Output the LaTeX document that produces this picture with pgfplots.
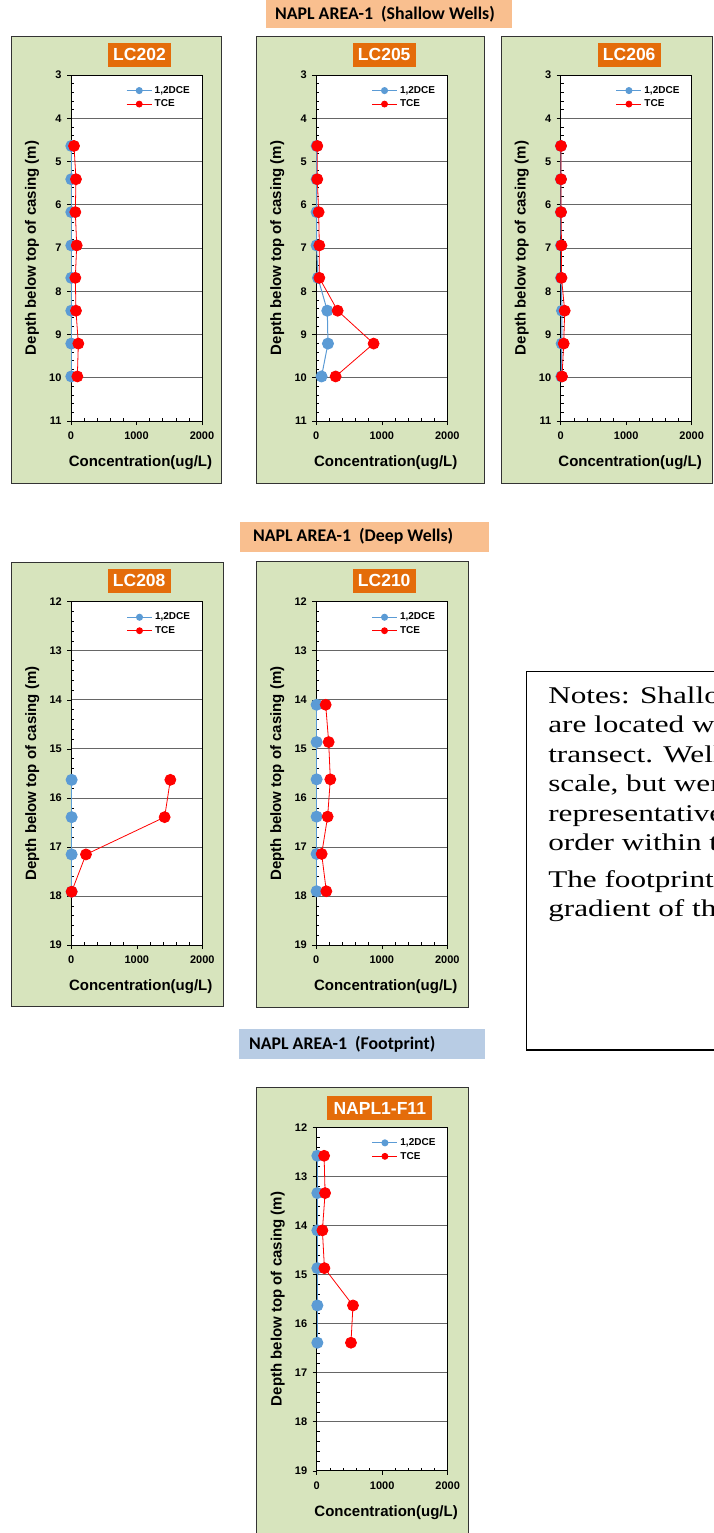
\documentclass[border=0pt]{standalone}
\usepackage{fontspec}
\setmainfont{Liberation Sans}
\newfontfamily\hdrfont{Carlito}
\newfontfamily\notefont{Liberation Serif}
\usepackage{pgfplots}
\pgfplotsset{compat=1.18}

\definecolor{pgreen}{RGB}{215,228,189}
\definecolor{tor}{RGB}{228,108,10}
\definecolor{peach}{RGB}{249,191,143}
\definecolor{hblue}{RGB}{184,204,228}
\definecolor{dceblue}{RGB}{91,155,213}

\pgfplotsset{
  panel/.style={
    scale only axis, width=131pt,
    xmin=0, xmax=2000, xtick={0,1000,2000}, minor x tick num=4,
    y dir=reverse, minor y tick num=4,
    tick pos=left,
    tick align=outside, major tick length=4pt, minor tick length=3pt,
    minor x tick style={yshift=3pt}, minor y tick style={xshift=3pt},
    tick style={black, line width=0.6pt},
    ymajorgrids, major grid style={black!60, line width=0.9pt},
    axis line style={black, line width=0.9pt},
    axis background/.style={fill=white},
    /pgf/number format/assume math mode=true,
    /pgf/number format/1000 sep={},
    ticklabel style={font=\bfseries\fontsize{11}{13}\selectfont},
    xticklabel style={yshift=-3pt},
    yticklabel style={xshift=-2pt},
    xlabel={Concentration(ug/L)},
    ylabel={Depth below top of casing (m)},
    label style={font=\bfseries\fontsize{15}{17}\selectfont},
    xlabel style={at={(axis description cs:0.53,-0.121)}, anchor=center},
    ylabel style={at={(axis description cs:-0.298,0.5)}, anchor=center},
    legend style={draw=none, fill=none, at={(0.42,0.975)}, anchor=north west,
      font=\bfseries\fontsize{10}{12}\selectfont, inner sep=0pt, row sep=0pt,
      nodes={inner sep=2.5pt}},
    legend cell align=left,
    legend image code/.code={\draw[mark repeat=2,mark phase=2,#1] plot coordinates {(0pt,0pt) (12.5pt,0pt) (25pt,0pt)};},
    legend image post style={mark size=3pt},
    clip=false,
  },
  top/.style={panel, height=346pt, ymin=3, ymax=11, ytick={3,4,5,6,7,8,9,10,11}},
  deep/.style={panel, height=343.5pt, ymin=12, ymax=19, ytick={12,13,14,15,16,17,18,19}},
  dce/.style={color=dceblue, line width=1pt, mark=*, mark size=5.5pt, mark options={solid}},
  tce/.style={color=red, line width=0.8pt, mark=*, mark size=5.5pt, mark options={solid}},
}

\begin{document}
\begin{tikzpicture}
\useasboundingbox (0pt,0pt) rectangle (714pt,-1533pt);
\clip (0pt,0pt) rectangle (714pt,-1533pt);

% headers
\fill[peach] (266pt,0pt) rectangle (512pt,-28pt);
\node[anchor=west, font=\hdrfont\bfseries\fontsize{17.8}{20}\selectfont, inner sep=0pt] at (275pt,-14pt) {NAPL AREA-1\ \ (Shallow Wells)};
\fill[peach] (240pt,-521.7pt) rectangle (489pt,-551.7pt);
\node[anchor=west, font=\hdrfont\bfseries\fontsize{17.8}{20}\selectfont, inner sep=0pt] at (253pt,-536.7pt) {NAPL AREA-1\ \ (Deep Wells)};
\fill[hblue] (239pt,-1029pt) rectangle (485pt,-1059pt);
\node[anchor=west, font=\hdrfont\bfseries\fontsize{17.8}{20}\selectfont, inner sep=0pt] at (249pt,-1044pt) {NAPL AREA-1\ \ (Footprint)};

% panel backgrounds
\filldraw[fill=pgreen, draw=black!80, line width=0.8pt] (11.7pt,-36pt) rectangle (221.7pt,-483.5pt);
\filldraw[fill=pgreen, draw=black!80, line width=0.8pt] (256.7pt,-36pt) rectangle (484pt,-483.5pt);
\filldraw[fill=pgreen, draw=black!80, line width=0.8pt] (501pt,-36pt) rectangle (712.5pt,-483.5pt);
\filldraw[fill=pgreen, draw=black!80, line width=0.8pt] (11.7pt,-562.7pt) rectangle (223.3pt,-1006.7pt);
\filldraw[fill=pgreen, draw=black!80, line width=0.8pt] (256.7pt,-561.7pt) rectangle (468.3pt,-1007.7pt);
\filldraw[fill=pgreen, draw=black!80, line width=0.8pt] (256.7pt,-1087.3pt) rectangle (468.3pt,-1545pt);

% panel titles
\tikzset{ttl/.style={fill=tor, text=white, font=\bfseries\fontsize{17.5}{20}\selectfont, minimum height=24pt, inner sep=0pt}}
\node[ttl, minimum width=63pt] at (139.5pt,-54.7pt) {LC202};
\node[ttl, minimum width=63pt] at (384.2pt,-54.7pt) {LC205};
\node[ttl, minimum width=63pt] at (629.2pt,-54.7pt) {LC206};
\node[ttl, minimum width=63pt] at (139.2pt,-580.5pt) {LC208};
\node[ttl, minimum width=63pt] at (384.2pt,-580.5pt) {LC210};
\node[ttl, minimum width=105pt] at (379.8pt,-1108.3pt) {NAPL1-F11};

% notes box
\draw[black, line width=1.3pt] (526.7pt,-671.7pt) rectangle (740pt,-1050pt);
\tikzset{nt/.style={anchor=base west, font=\notefont\fontsize{24}{28}\selectfont, inner sep=0pt, xscale=1.3}}
\node[nt] at (548pt,-703pt) {Notes: Shallow wells};
\node[nt] at (548pt,-732.5pt) {are located within the};
\node[nt] at (548pt,-762pt) {transect. Wells are not to};
\node[nt] at (548pt,-791.5pt) {scale, but were placed in};
\node[nt] at (548pt,-821pt) {representative relative};
\node[nt] at (548pt,-850pt) {order within the transect.};
\node[nt] at (548pt,-887pt) {The footprint well is located};
\node[nt] at (548pt,-916pt) {gradient of the NAPL area.};

% LC202
\begin{axis}[top, at={(71pt,-75pt)}, anchor=north west]
\addplot[dce] table {
x y
5 4.64
5 5.41
5 6.17
5 6.94
5 7.69
5 8.45
5 9.21
5 9.97
};
\addlegendentry{1,2DCE}
\addplot[tce] table {
x y
46 4.64
76 5.41
66 6.17
87 6.94
66 7.69
76 8.45
112 9.21
97 9.97
};
\addlegendentry{TCE}
\end{axis}

% LC205
\begin{axis}[top, at={(316.3pt,-75pt)}, anchor=north west]
\addplot[dce] table {
x y
5 4.64
5 5.41
5 6.17
5 6.94
25 7.69
168 8.45
178 9.21
80 9.97
};
\addlegendentry{1,2DCE}
\addplot[tce] table {
x y
15 4.64
15 5.41
36 6.17
46 6.94
46 7.69
326 8.45
875 9.21
295 9.97
};
\addlegendentry{TCE}
\end{axis}

% LC206
\begin{axis}[top, at={(560.7pt,-75pt)}, anchor=north west]
\addplot[dce] table {
x y
3 4.64
3 5.41
3 6.17
5 6.94
5 7.69
20 8.45
15 9.21
10 9.97
};
\addlegendentry{1,2DCE}
\addplot[tce] table {
x y
5 4.64
5 5.41
5 6.17
12 6.94
12 7.69
61 8.45
46 9.21
20 9.97
};
\addlegendentry{TCE}
\end{axis}

% LC208
\begin{axis}[deep, at={(71.3pt,-601.7pt)}, anchor=north west]
\addplot[dce] table {
x y
5 15.63
5 16.39
5 17.15
5 17.91
};
\addlegendentry{1,2DCE}
\addplot[tce] table {
x y
1512 15.63
1425 16.39
224 17.15
5 17.91
};
\addlegendentry{TCE}
\end{axis}

% LC210
\begin{axis}[deep, at={(316.3pt,-601.7pt)}, anchor=north west]
\addplot[dce] table {
x y
5 14.10
5 14.86
5 15.62
5 16.38
5 17.14
5 17.90
};
\addlegendentry{1,2DCE}
\addplot[tce] table {
x y
143 14.10
189 14.86
214 15.62
173 16.38
82 17.14
153 17.90
};
\addlegendentry{TCE}
\end{axis}

% NAPL1-F11
\begin{axis}[deep, at={(316.7pt,-1127.3pt)}, anchor=north west]
\addplot[dce] table {
x y
10 12.58
10 13.34
10 14.10
10 14.87
10 15.63
10 16.39
};
\addlegendentry{1,2DCE}
\addplot[tce] table {
x y
113 12.58
128 13.34
87 14.10
118 14.87
554 15.63
523 16.39
};
\addlegendentry{TCE}
\end{axis}
\end{tikzpicture}
\end{document}
